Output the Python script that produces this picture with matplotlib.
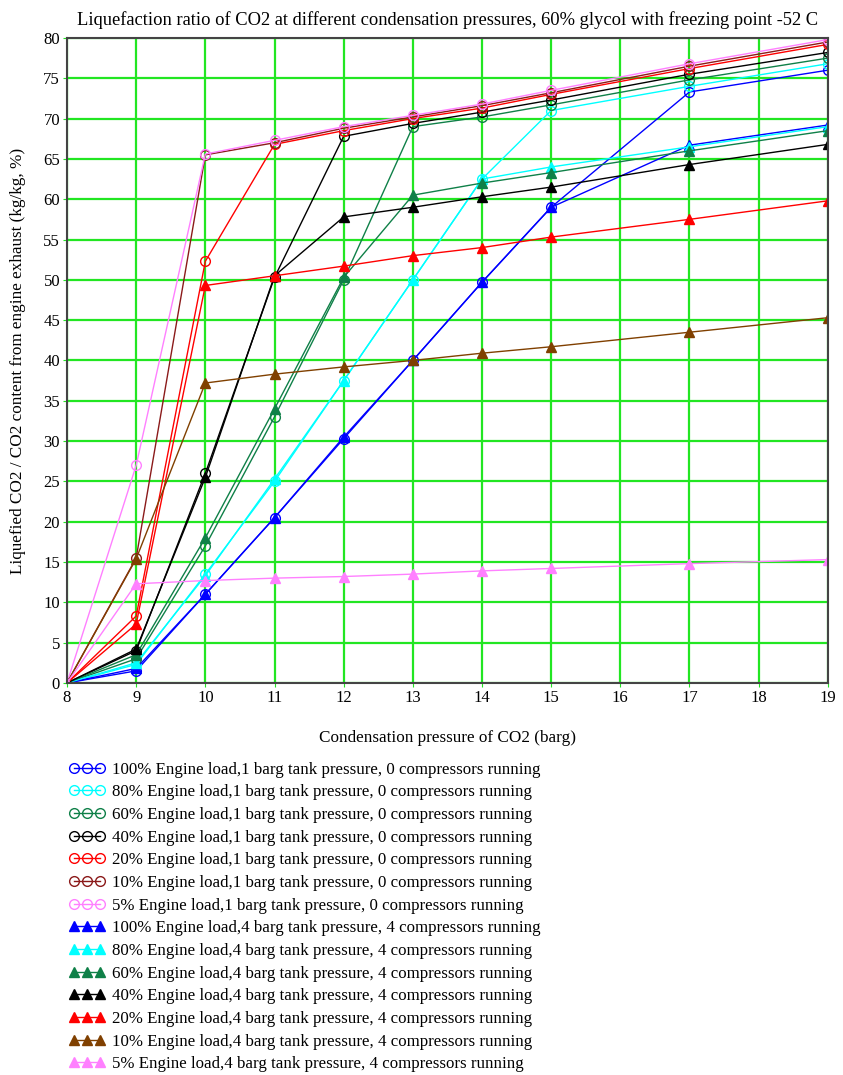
import matplotlib.pyplot as plt

plt.rcParams['font.family'] = ['Liberation Serif', 'DejaVu Serif']

pressure = [8, 9, 10, 11, 12, 13, 14, 15, 17, 19]

# 1 barg tank pressure, 0 compressors running (open circles)
c100 = [0, 1.5, 11.0, 20.5, 30.3, 40.0, 49.7, 59.0, 73.3, 76.0]
c80 = [0, 2.3, 13.5, 25.0, 37.5, 50.0, 62.5, 71.0, 74.0, 76.8]
c60 = [0, 3.0, 17.0, 33.0, 50.0, 69.0, 70.2, 71.7, 74.8, 77.5]
c40 = [0, 4.0, 26.0, 50.3, 67.8, 69.4, 70.8, 72.3, 75.5, 78.2]
c20 = [0, 8.3, 52.3, 66.8, 68.5, 70.0, 71.3, 73.0, 76.2, 79.2]
c10 = [0, 15.5, 65.5, 67.0, 68.8, 70.2, 71.6, 73.2, 76.5, 79.5]
c5 = [0, 27.0, 65.6, 67.3, 69.0, 70.4, 71.8, 73.5, 76.8, 79.8]

# 4 barg tank pressure, 4 compressors running (filled triangles)
t100 = [0, 1.8, 11.0, 20.5, 30.5, 40.0, 49.7, 59.0, 66.7, 69.2]
t80 = [0, 2.5, 13.3, 25.3, 37.5, 50.0, 62.5, 64.0, 66.5, 69.0]
t60 = [0, 3.5, 18.0, 34.0, 50.3, 60.5, 62.0, 63.3, 66.0, 68.5]
t40 = [0, 4.2, 25.5, 50.5, 57.8, 59.0, 60.3, 61.5, 64.3, 66.8]
t20 = [0, 7.3, 49.3, 50.5, 51.7, 53.0, 54.0, 55.3, 57.5, 59.8]
t10 = [0, 15.4, 37.2, 38.3, 39.2, 40.0, 40.9, 41.7, 43.5, 45.3]
t5 = [0, 12.3, 12.7, 13.0, 13.2, 13.5, 13.9, 14.2, 14.8, 15.3]

loads = ['100%', '80%', '60%', '40%', '20%', '10%', '5%']
colors = ['#0000ff', '#00ffff', '#0f8048', '#000000', '#ff0000', '#8b1a1a', '#ff80ff']
tri_colors = ['#0000ff', '#00ffff', '#0f8048', '#000000', '#ff0000', '#804000', '#ff80ff']
circles = [c100, c80, c60, c40, c20, c10, c5]
triangles = [t100, t80, t60, t40, t20, t10, t5]

fig = plt.figure(figsize=(8.43, 10.75), dpi=100)
ax = fig.add_axes([0.0795, 0.3647, 0.9025, 0.6000])

handles = []
for load, col, vals in zip(loads, colors, circles):
    h, = ax.plot(pressure, vals, color=col, lw=1, marker='o', ms=7,
                 mfc='none', mec=col, mew=1,
                 label=f'{load} Engine load,1 barg tank pressure, 0 compressors running')
    handles.append(h)
for load, col, vals in zip(loads, tri_colors, triangles):
    h, = ax.plot(pressure, vals, color=col, lw=1, marker='^', ms=7,
                 mfc=col, mec=col,
                 label=f'{load} Engine load,4 barg tank pressure, 4 compressors running')
    handles.append(h)

ax.set_xlim(8, 19)
ax.set_ylim(0, 80)
ax.set_xticks(range(8, 20))
ax.set_yticks(range(0, 81, 5))
ax.grid(True, color='#22e622', lw=1.6)
ax.set_axisbelow(True)
ax.tick_params(labelsize=12, length=3, color='#22e622', pad=2)
for s in ax.spines.values():
    s.set_color('#444444')
    s.set_linewidth(1.5)

ax.set_title('Liquefaction ratio of CO2 at different condensation pressures, 60% glycol with freezing point -52 C',
             fontsize=13.3, pad=9)
ax.set_xlabel('Condensation pressure of CO2 (barg)', fontsize=12.3, labelpad=17)
ax.set_ylabel('Liquefied CO2 / CO2 content from engine exhaust (kg/kg, %)', fontsize=12.3)
ax.yaxis.set_label_coords(-0.054, 0.5)

fig.legend(handles=handles, loc='upper left', bbox_to_anchor=(0.0819, 0.2915),
           frameon=False, fontsize=12.2, numpoints=3, handlelength=2.13,
           handletextpad=0.41, labelspacing=0.393, borderpad=0, borderaxespad=0)

fig.savefig('out.png', dpi=100)
